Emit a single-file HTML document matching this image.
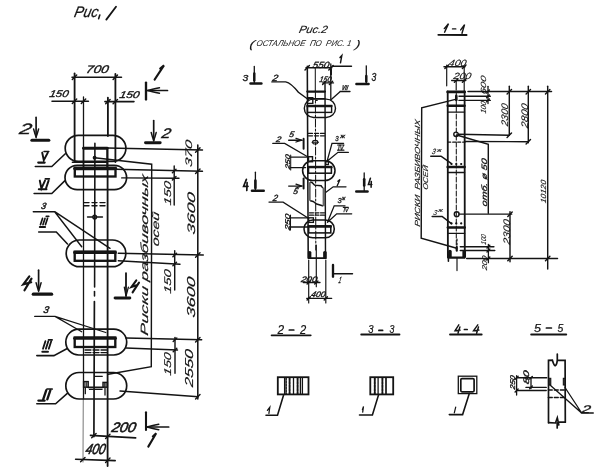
<!DOCTYPE html>
<html><head><meta charset="utf-8"><style>
html,body{margin:0;padding:0;background:#fff;}
svg{display:block;will-change:transform;}
svg text{stroke:#141414;font-family:"Liberation Sans",sans-serif;font-style:italic;fill:#141414;}
</style></head><body>
<svg width="607" height="468" viewBox="0 0 607 468">
<rect x="0" y="0" width="607" height="468" fill="#fff" stroke="none"/>
<g stroke="#141414" stroke-width="1.69" fill="none" stroke-linecap="round">
<text transform="translate(73.5,16.9) skewX(-12)" x="0" y="0" font-size="15.3" textLength="24.0" lengthAdjust="spacingAndGlyphs" stroke-width="0.25">Рис</text>
<path d="M99.8 15 L98.6 18.8" stroke-width="1.56"/>
<path d="M106.3 19.6 L116 6.8" stroke-width="1.82"/>
<line x1="72" y1="77.2" x2="121.5" y2="77.2" stroke-width="1.56"/>
<line x1="72.3" y1="79.4" x2="76.7" y2="75.0" stroke-width="1.43"/>
<line x1="113.1" y1="79.4" x2="117.5" y2="75.0" stroke-width="1.43"/>
<text transform="translate(85.5,73) skewX(-12)" x="0" y="0" font-size="11.11" textLength="22.5" lengthAdjust="spacingAndGlyphs" stroke-width="0.35">700</text>
<line x1="52" y1="101.2" x2="88.4" y2="101.2" stroke-width="1.56"/>
<line x1="72.3" y1="103.4" x2="76.7" y2="99.0" stroke-width="1.43"/>
<line x1="81.3" y1="103.4" x2="85.7" y2="99.0" stroke-width="1.43"/>
<text transform="translate(49,97) skewX(-12)" x="0" y="0" font-size="9.72" textLength="19" lengthAdjust="spacingAndGlyphs" stroke-width="0.35">150</text>
<line x1="104.9" y1="101.6" x2="134" y2="101.6" stroke-width="1.56"/>
<line x1="105.7" y1="103.8" x2="110.1" y2="99.4" stroke-width="1.43"/>
<line x1="113.1" y1="103.8" x2="117.5" y2="99.4" stroke-width="1.43"/>
<text transform="translate(119,97.5) skewX(-12)" x="0" y="0" font-size="9.72" textLength="20" lengthAdjust="spacingAndGlyphs" stroke-width="0.35">150</text>
<line x1="74.6" y1="73.5" x2="74.6" y2="161.5" stroke-width="1.82"/>
<line x1="115.4" y1="74" x2="115.4" y2="162" stroke-width="1.82"/>
<line x1="83.5" y1="97" x2="83.5" y2="399" stroke-width="1.3"/>
<line x1="83.3" y1="399" x2="83" y2="462" stroke-width="1.17" stroke="#8a8a8a"/>
<line x1="107.9" y1="97.7" x2="107.9" y2="136" stroke-width="1.82"/>
<line x1="107.6" y1="147.8" x2="107.6" y2="466" stroke-width="1.82"/>
<line x1="146" y1="82.6" x2="146" y2="99.4" stroke-width="2.34"/>
<line x1="147.5" y1="90.5" x2="167.5" y2="90.5"/>
<path d="M159.5 87.8 Q151.5 89.5 147.5 90.5 Q151.5 91.5 159.5 93.2" stroke-width="1.43"/>
<path d="M154.6 79.6 L164 65.4 L160.2 68.6" stroke-width="2.08"/>
<text transform="translate(18.7,134) skewX(-12)" x="0" y="0" font-size="15" textLength="12.1" lengthAdjust="spacingAndGlyphs" stroke-width="0.35">2</text>
<line x1="36.1" y1="117.3" x2="36.1" y2="137"/>
<path d="M33.6 129 Q34.9 134 36.1 137 Q37.3 134 38.6 129" stroke-width="1.43"/>
<line x1="31.9" y1="140.2" x2="48.8" y2="140.2" stroke-width="3.12"/>
<line x1="153.7" y1="120.5" x2="153.7" y2="140.5"/>
<path d="M151.2 132.5 Q152.5 137.5 153.7 140.5 Q154.9 137.5 156.2 132.5" stroke-width="1.43"/>
<line x1="145.5" y1="142.7" x2="160.2" y2="142.7" stroke-width="2.86"/>
<text transform="translate(161,138) skewX(-12)" x="0" y="0" font-size="14" textLength="9" lengthAdjust="spacingAndGlyphs" stroke-width="0.35">2</text>
<rect x="65.2" y="135.3" width="60.7" height="26.1" rx="13.05"/>
<rect x="65" y="165.3" width="61.6" height="24.4" rx="12.2"/>
<rect x="66.2" y="240" width="59.6" height="26.7" rx="13.35"/>
<rect x="65.8" y="329.2" width="60.9" height="25.8" rx="12.9"/>
<rect x="65.8" y="372.5" width="60.9" height="26.5" rx="13.25"/>
<rect x="83.5" y="147.8" width="23.6" height="20" stroke-width="1.56"/>
<line x1="83.5" y1="148.3" x2="107.1" y2="148.3" stroke-width="2.86"/>
<line x1="72.4" y1="162.2" x2="107" y2="162.2" stroke-width="1.56"/>
<line x1="94.9" y1="143.2" x2="94.6" y2="287" stroke-width="1.56"/>
<line x1="94.5" y1="291.5" x2="94.5" y2="296" stroke-width="1.56"/>
<line x1="94.4" y1="301.5" x2="93.9" y2="436.6"/>
<circle cx="94.6" cy="157.8"  r="1.3" stroke-width="1.3" fill="#1e1e1e"/>
<path d="M94.6 157.8 L151.7 164.2 L151.3 366.6 L108.2 374.2" stroke-width="1.43"/>
<rect x="74.8" y="167.8" width="40.7" height="8.7" stroke-width="2.34"/>
<line x1="74.8" y1="168.6" x2="115.5" y2="168.6" stroke-width="3.38"/>
<line x1="84" y1="202.6" x2="107.5" y2="202.6" stroke-width="1.43" stroke-dasharray="5 3"/>
<line x1="84" y1="205.8" x2="107.5" y2="205.8" stroke-width="1.43" stroke-dasharray="5 3"/>
<circle cx="94.7" cy="217"  r="1.9" stroke-width="1.3" fill="none"/>
<line x1="87.5" y1="217" x2="102.5" y2="217" stroke-width="1.3"/>
<rect x="74.7" y="251.7" width="40.6" height="9.1" stroke-width="2.34"/>
<line x1="74.7" y1="252.4" x2="115.3" y2="252.4" stroke-width="3.12"/>
<rect x="74.7" y="337.5" width="40.6" height="9.5" stroke-width="2.34"/>
<line x1="74.7" y1="338.2" x2="115.3" y2="338.2" stroke-width="3.12"/>
<line x1="85" y1="350" x2="106.7" y2="350" stroke-width="1.3" stroke-dasharray="6 2"/>
<line x1="85" y1="352.6" x2="106.7" y2="352.6" stroke-width="1.3" stroke-dasharray="6 2"/>
<rect x="83.6" y="381.6" width="4.6" height="5.6" stroke-width="1.43"/>
<line x1="85" y1="382.5" x2="85" y2="386.5" stroke-width="1.04"/>
<line x1="86.7" y1="382.5" x2="86.7" y2="386.5" stroke-width="1.04"/>
<rect x="103" y="382.4" width="4.4" height="4.8" stroke-width="1.43"/>
<line x1="104.3" y1="383" x2="104.3" y2="386.5" stroke-width="1.04"/>
<line x1="105.9" y1="383" x2="105.9" y2="386.5" stroke-width="1.04"/>
<line x1="88.2" y1="387.4" x2="103" y2="387.4" stroke-width="1.56"/>
<line x1="89.5" y1="389.4" x2="102" y2="389.4" stroke-width="1.3"/>
<line x1="85.3" y1="387.8" x2="85.3" y2="393.7" stroke-width="1.3"/>
<line x1="105" y1="388.4" x2="105" y2="395" stroke-width="1.3"/>
<line x1="94.8" y1="376.3" x2="102.3" y2="376.3" stroke-width="1.17"/>
<path d="M42.2 152.6 L43.8 160.2 L47.8 152.6" stroke-width="1.95"/>
<line x1="44" y1="151.5" x2="48.8" y2="151.5" stroke-width="1.56"/>
<line x1="38.2" y1="162.6" x2="44.7" y2="162.6" stroke-width="2.08"/>
<path d="M35.3 166.5 L51.8 166.5 L65.3 153.8" stroke-width="1.56"/>
<path d="M39.8 180.6 L41.4 188.4 L45 180.6 M46 188.4 L48.6 180.6" stroke-width="1.95"/>
<line x1="45.3" y1="178.9" x2="49.4" y2="178.9" stroke-width="1.56"/>
<line x1="38.8" y1="189.3" x2="46.5" y2="189.3" stroke-width="1.95"/>
<path d="M34.1 193.5 L51.8 193.5 L64.7 180.9" stroke-width="1.56"/>
<text transform="translate(40.8,209.2) skewX(-12)" x="0" y="0" font-size="9" textLength="4.8" lengthAdjust="spacingAndGlyphs" stroke-width="0.5">3</text>
<path d="M33.3 211.7 L54.7 211.7 L81.7 246.7 M54.7 211.7 L110 248.3" stroke-width="1.43"/>
<path d="M40.5 224.6 L42.5 218.4 M43 224.6 L45 218.4 M45.5 224.6 L47.5 218.4"/>
<line x1="46.2" y1="216.4" x2="48.8" y2="216.4" stroke-width="1.56"/>
<line x1="39.8" y1="227" x2="45.1" y2="227" stroke-width="1.95"/>
<path d="M38.7 232 L56.3 232 L67.5 244" stroke-width="1.56"/>
<path d="M29.3 276.3 L23.3 284.3 L31.2 282.3 M31.5 278.6 L24.5 290.3" stroke-width="2.21"/>
<line x1="38.6" y1="270.2" x2="38.6" y2="290.8"/>
<path d="M36.1 282.8 Q37.4 287.8 38.6 290.8 Q39.8 287.8 41.1 282.8" stroke-width="1.43"/>
<line x1="33.3" y1="294.2" x2="51.6" y2="294.2" stroke-width="3.25"/>
<line x1="126" y1="273.1" x2="126" y2="296" stroke-width="1.82"/>
<path d="M124.3 287.1 L126 296 L128.4 287.1" stroke-width="1.3"/>
<line x1="115.1" y1="297.9" x2="129.8" y2="297.9" stroke-width="2.99"/>
<path d="M136.3 280.3 L131.5 286.9 L137.2 284.9 M139 282.7 L132.6 292.3" stroke-width="2.08"/>
<text transform="translate(43,313.3) skewX(-12)" x="0" y="0" font-size="9.5" textLength="5.3" lengthAdjust="spacingAndGlyphs" stroke-width="0.5">3</text>
<path d="M34.7 316.4 L55 316.4 L81.7 331.7 M55 316.4 L105.8 332.5" stroke-width="1.3"/>
<path d="M43 348.7 L45.4 341.2 M45.9 348.7 L48.3 341.2 M48.8 348.7 L51.2 341.2" stroke-width="1.82"/>
<line x1="48.5" y1="339.9" x2="52.2" y2="339.9" stroke-width="1.56"/>
<line x1="42.3" y1="351.7" x2="48" y2="351.7" stroke-width="1.95"/>
<path d="M36.8 355.6 L53.9 355.6 L66.8 348.8" stroke-width="1.56"/>
<path d="M43.2 399.3 L46.3 390.2 M47.3 399.3 L50.4 390.2" stroke-width="2.34"/>
<line x1="47" y1="389" x2="52.2" y2="389"/>
<line x1="38.5" y1="400.6" x2="44.5" y2="400.6" stroke-width="2.34"/>
<path d="M36.8 403.8 L55.6 403.8 L67.6 393.2" stroke-width="1.56"/>
<line x1="197.8" y1="145" x2="197.8" y2="399" stroke-width="1.56"/>
<line x1="107.1" y1="148" x2="202.5" y2="150" stroke-width="1.43"/>
<line x1="115.5" y1="169.2" x2="202.5" y2="171.2" stroke-width="1.43"/>
<line x1="121.7" y1="177.9" x2="179" y2="178.3" stroke-width="1.43"/>
<line x1="118.3" y1="253.3" x2="203.3" y2="255" stroke-width="1.43"/>
<line x1="118.3" y1="260.8" x2="180" y2="264.2" stroke-width="1.43"/>
<line x1="126" y1="338" x2="201.7" y2="339.7" stroke-width="1.43"/>
<line x1="126" y1="348" x2="177.5" y2="350" stroke-width="1.43"/>
<line x1="120" y1="391" x2="198.3" y2="396.7" stroke-width="1.43"/>
<line x1="195.6" y1="152.2" x2="200.0" y2="147.8" stroke-width="1.43"/>
<line x1="195.6" y1="173.4" x2="200.0" y2="169.0" stroke-width="1.43"/>
<line x1="195.6" y1="257.2" x2="200.0" y2="252.8" stroke-width="1.43"/>
<line x1="195.6" y1="341.9" x2="200.0" y2="337.5" stroke-width="1.43"/>
<line x1="195.6" y1="398.9" x2="200.0" y2="394.5" stroke-width="1.43"/>
<line x1="174.2" y1="166" x2="174.2" y2="205" stroke-width="1.43"/>
<line x1="174.7" y1="250.8" x2="174.7" y2="290" stroke-width="1.43"/>
<line x1="175" y1="337.5" x2="175" y2="373.3" stroke-width="1.43"/>
<line x1="172.4" y1="172.8" x2="176.0" y2="169.2" stroke-width="1.43"/>
<line x1="172.4" y1="180.1" x2="176.0" y2="176.5" stroke-width="1.43"/>
<line x1="172.9" y1="256.8" x2="176.5" y2="253.2" stroke-width="1.43"/>
<line x1="172.9" y1="265.8" x2="176.5" y2="262.2" stroke-width="1.43"/>
<line x1="173.2" y1="341.5" x2="176.8" y2="337.9" stroke-width="1.43"/>
<line x1="173.2" y1="351.8" x2="176.8" y2="348.2" stroke-width="1.43"/>
<text transform="translate(191.5,167.6) rotate(-90) skewX(-12)" x="0" y="0" font-size="9.5" textLength="27.0" lengthAdjust="spacingAndGlyphs" stroke-width="0.12">370</text>
<text transform="translate(171,205.8) rotate(-90) skewX(-12)" x="0" y="0" font-size="9.72" textLength="24.1" lengthAdjust="spacingAndGlyphs" stroke-width="0.18">150</text>
<text transform="translate(194.5,235) rotate(-90) skewX(-12)" x="0" y="0" font-size="10.83" textLength="42" lengthAdjust="spacingAndGlyphs" stroke-width="0.18">3600</text>
<text transform="translate(171,294) rotate(-90) skewX(-12)" x="0" y="0" font-size="9.72" textLength="24" lengthAdjust="spacingAndGlyphs" stroke-width="0.18">150</text>
<text transform="translate(195,318) rotate(-90) skewX(-12)" x="0" y="0" font-size="11.53" textLength="40.5" lengthAdjust="spacingAndGlyphs" stroke-width="0.18">3600</text>
<text transform="translate(170.8,376) rotate(-90) skewX(-12)" x="0" y="0" font-size="9.86" textLength="23" lengthAdjust="spacingAndGlyphs" stroke-width="0.18">150</text>
<text transform="translate(193.3,387.5) rotate(-90) skewX(-12)" x="0" y="0" font-size="11.53" textLength="37.5" lengthAdjust="spacingAndGlyphs" stroke-width="0.18">2550</text>
<text transform="translate(147.5,336) rotate(-90) skewX(-12)" x="0" y="0" font-size="10.5" textLength="161" lengthAdjust="spacingAndGlyphs" stroke-width="0.18">Риски разбивочных</text>
<text transform="translate(159,246.7) rotate(-90) skewX(-12)" x="0" y="0" font-size="10" textLength="34.2" lengthAdjust="spacingAndGlyphs" stroke-width="0.18">осей</text>
<line x1="146" y1="412.3" x2="146" y2="430" stroke-width="2.08"/>
<line x1="146.8" y1="427" x2="168.7" y2="427"/>
<path d="M158.8 424.3 Q150.8 426 146.8 427 Q150.8 428 158.8 429.7" stroke-width="1.43"/>
<path d="M148.3 446.6 L156.2 433.3 L152.8 436.4" stroke-width="2.08"/>
<line x1="90.4" y1="435.4" x2="135.7" y2="437.9" stroke-width="1.56"/>
<line x1="91.7" y1="437.8" x2="96.1" y2="433.4" stroke-width="1.43"/>
<line x1="105.6" y1="438.6" x2="110.0" y2="434.2" stroke-width="1.43"/>
<text transform="translate(110.9,432.3) skewX(-12)" x="0" y="0" font-size="13.75" textLength="24.1" lengthAdjust="spacingAndGlyphs" stroke-width="0.6">200</text>
<line x1="75.6" y1="459.3" x2="115.2" y2="460.6" stroke-width="1.56"/>
<line x1="80.6" y1="461.8" x2="85.0" y2="457.4" stroke-width="1.43"/>
<line x1="105.6" y1="462.5" x2="110.0" y2="458.1" stroke-width="1.43"/>
<text transform="translate(84.9,454) skewX(-12)" x="0" y="0" font-size="14.58" textLength="19.8" lengthAdjust="spacingAndGlyphs" stroke-width="0.6">400</text>
<text transform="translate(298.4,32.8) skewX(-12)" x="0" y="0" font-size="10.5" textLength="28.6" lengthAdjust="spacingAndGlyphs" stroke-width="0.15">Рис.2</text>
<text transform="translate(249,47.7) skewX(-12)" x="0" y="0" font-size="11" textLength="5" lengthAdjust="spacingAndGlyphs" stroke-width="0.1">(</text>
<text transform="translate(256,45.8) skewX(-12)" x="0" y="0" font-size="8.3" textLength="95" lengthAdjust="spacingAndGlyphs" stroke-width="0">ОСТАЛЬНОЕ  ПО  РИС. 1</text>
<text transform="translate(354.7,47.7) skewX(-12)" x="0" y="0" font-size="11" textLength="4.9" lengthAdjust="spacingAndGlyphs" stroke-width="0.1">)</text>
<line x1="307.3" y1="66.2" x2="308.2" y2="258" stroke-width="1.56"/>
<line x1="315.3" y1="68.5" x2="315.3" y2="91" stroke-width="1.04"/>
<line x1="330.8" y1="64" x2="330.8" y2="99.5" stroke-width="1.3"/>
<line x1="306" y1="67.8" x2="331.8" y2="67.8" stroke-width="1.43"/>
<line x1="305.0" y1="70.0" x2="309.4" y2="65.6" stroke-width="1.43"/>
<line x1="328.8" y1="70.0" x2="333.2" y2="65.6" stroke-width="1.43"/>
<text transform="translate(312.2,67.6) skewX(-12)" x="0" y="0" font-size="9" textLength="16.5" lengthAdjust="spacingAndGlyphs" stroke-width="0.35">550</text>
<line x1="332.1" y1="66.2" x2="351.5" y2="66.2" stroke-width="1.43"/>
<line x1="331" y1="69.2" x2="331" y2="74.5" stroke-width="1.95"/>
<path d="M340.5 62.8 L341.8 55.6 L340 57.6" stroke-width="1.43"/>
<line x1="322.7" y1="82.9" x2="333.5" y2="82.9" stroke-width="1.3"/>
<line x1="322.6" y1="84.5" x2="325.8" y2="81.3" stroke-width="1.43"/>
<line x1="329.4" y1="84.5" x2="332.6" y2="81.3" stroke-width="1.43"/>
<text transform="translate(319,82.2) skewX(-12)" x="0" y="0" font-size="8" textLength="12" lengthAdjust="spacingAndGlyphs" stroke-width="0.35">150</text>
<text transform="translate(242.5,80.5) skewX(0)" x="0" y="0" font-size="8.89" textLength="5.8" lengthAdjust="spacingAndGlyphs" font-style="normal" stroke-width="0.3">3</text>
<line x1="254.3" y1="66.4" x2="254.3" y2="83.4" stroke-width="1.3"/>
<line x1="254.3" y1="73.5" x2="254.3" y2="80.5" stroke-width="2.47"/>
<line x1="250.5" y1="83.6" x2="261.4" y2="83.6" stroke-width="2.47"/>
<line x1="366.3" y1="65.8" x2="366.3" y2="84" stroke-width="1.3"/>
<line x1="366.3" y1="76" x2="366.3" y2="81.5" stroke-width="2.47"/>
<line x1="356.4" y1="84" x2="368.6" y2="84" stroke-width="2.47"/>
<text transform="translate(371.5,80.5) skewX(0)" x="0" y="0" font-size="10.28" textLength="4.8" lengthAdjust="spacingAndGlyphs" font-style="normal" stroke-width="0.3">3</text>
<text transform="translate(272,80.7) skewX(-12)" x="0" y="0" font-size="9" textLength="5.5" lengthAdjust="spacingAndGlyphs" stroke-width="0.35">2</text>
<path d="M271.9 81.9 L285.7 81.9 Q291 83 298.4 92.3 L308.3 99.5" stroke-width="1.43"/>
<text transform="translate(341.6,89.5) skewX(-12)" x="0" y="0" font-size="7" textLength="5.9" lengthAdjust="spacingAndGlyphs" font-weight="bold" stroke-width="0.35">VII</text>
<path d="M340 91.5 L350 91.5 M340 91.8 L331 99.7" stroke-width="1.3"/>
<line x1="307.3" y1="91.6" x2="324.9" y2="91.6" stroke-width="2.21"/>
<line x1="307.3" y1="98.7" x2="324.9" y2="98.7" stroke-width="1.3"/>
<path d="M308.2 97.8 L312.8 97.8 L312.8 103.4 L308.2 103.4" stroke-width="1.43"/>
<line x1="315.6" y1="100.4" x2="317.2" y2="100.4" stroke-width="1.17"/>
<rect x="304.3" y="99.1" width="31.2" height="18.4" rx="9.2" stroke-width="1.43"/>
<rect x="307.3" y="105.5" width="24.3" height="6.9" stroke-width="1.43"/>
<line x1="307.3" y1="106.1" x2="331.6" y2="106.1" stroke-width="2.08"/>
<line x1="315.4" y1="91" x2="315.8" y2="250" stroke-width="1.04" stroke-dasharray="8 2 2 2"/>
<line x1="325" y1="83.4" x2="325.5" y2="258" stroke-width="1.43"/>
<line x1="308.5" y1="133.4" x2="325.4" y2="133.4" stroke-width="1.3" stroke-dasharray="4 2"/>
<line x1="308.5" y1="135.8" x2="325.4" y2="135.8" stroke-width="1.3" stroke-dasharray="4 2"/>
<ellipse cx="315.2" cy="142.2" rx="2.6" ry="1.8" stroke-width="1.1"/>
<line x1="312" y1="142.2" x2="318.5" y2="142.2" stroke-width="1.04"/>
<text transform="translate(288.7,136.8) skewX(-12)" x="0" y="0" font-size="8" textLength="4.9" lengthAdjust="spacingAndGlyphs" font-style="normal" stroke-width="0.35">5</text>
<line x1="288.7" y1="140.2" x2="301.6" y2="140.2" stroke-width="1.43"/>
<path d="M296 138.3 L301.6 140.2 L296 142" stroke-width="1.3"/>
<line x1="303.6" y1="138.8" x2="303.6" y2="148.7" stroke-width="1.95"/>
<text transform="translate(275.8,141.8) skewX(-12)" x="0" y="0" font-size="8" textLength="4.9" lengthAdjust="spacingAndGlyphs" stroke-width="0.35">2</text>
<path d="M272.8 143.4 L284.7 143.4 L307.6 156.7" stroke-width="1.3"/>
<text transform="translate(335.3,141.2) skewX(0)" x="0" y="0" font-size="7" textLength="3.4" lengthAdjust="spacingAndGlyphs" font-style="normal" stroke-width="0.3">3</text>
<text transform="translate(340.2,138.2) skewX(0)" x="0" y="0" font-size="5.5" textLength="4.8" lengthAdjust="spacingAndGlyphs" stroke-width="0.3">ж</text>
<text transform="translate(338,149.9) skewX(0)" x="0" y="0" font-size="6.5" textLength="5.6" lengthAdjust="spacingAndGlyphs" font-style="normal" stroke-width="0.3">IV</text>
<line x1="337.6" y1="145" x2="343.9" y2="145" stroke-width="1.17"/>
<line x1="337.6" y1="150.2" x2="343.9" y2="150.2" stroke-width="1.17"/>
<path d="M343.6 143.3 L332 143.3 L327.1 161.2 M348.4 152.3 L338 152.3 L327.1 161.2" stroke-width="1.3"/>
<rect x="308.5" y="156.7" width="4" height="5" stroke-width="1.43"/>
<rect x="325.8" y="161.7" width="2.6" height="2.9" stroke-width="1.3"/>
<text transform="translate(289.7,169.6) rotate(-90) skewX(-12)" x="0" y="0" font-size="6.5" textLength="14.9" lengthAdjust="spacingAndGlyphs" stroke-width="0.35">250</text>
<line x1="290.7" y1="157.1" x2="306.6" y2="157.1" stroke-width="1.3"/>
<line x1="290.7" y1="167.6" x2="305.6" y2="167.6" stroke-width="1.3"/>
<line x1="290.7" y1="155" x2="290.7" y2="170" stroke-width="1.04"/>
<rect x="302.6" y="160.7" width="32.4" height="19.8" rx="9.9" stroke-width="1.56"/>
<rect x="308.5" y="166.6" width="22.9" height="6.6" stroke-width="1.56"/>
<line x1="308.5" y1="167.2" x2="331.4" y2="167.2" stroke-width="2.34"/>
<text transform="translate(292.7,194.4) skewX(-12)" x="0" y="0" font-size="8" textLength="4.9" lengthAdjust="spacingAndGlyphs" font-style="normal" stroke-width="0.35">5</text>
<line x1="288.7" y1="186.1" x2="301.6" y2="186.1" stroke-width="1.43"/>
<path d="M296 184.2 L301.6 186.1 L296 188" stroke-width="1.3"/>
<line x1="303.6" y1="178.5" x2="303.6" y2="188.5" stroke-width="1.95"/>
<path d="M246.4 179.4 L243.6 186.3 L248 186.3 M247.1 182.7 L246.8 190.5"/>
<line x1="255.4" y1="172.2" x2="255.4" y2="190.8" stroke-width="1.3"/>
<line x1="255.4" y1="180.5" x2="255.4" y2="188" stroke-width="2.6"/>
<line x1="252" y1="190.8" x2="263.7" y2="190.8" stroke-width="2.6"/>
<line x1="364.2" y1="172.9" x2="364.2" y2="191.2" stroke-width="1.3"/>
<line x1="364.2" y1="179.2" x2="364.2" y2="185.5" stroke-width="2.6"/>
<line x1="356.3" y1="191.5" x2="367.5" y2="191.5" stroke-width="2.6"/>
<path d="M370.4 178.2 L368.4 184.5 L371.8 184.5 M371.3 181.5 L371.1 187.2" stroke-width="1.56"/>
<path d="M337.2 185.8 L340 179.5 L337.8 181.2" stroke-width="1.3"/>
<path d="M346 186.8 L333.2 186.8 L325.6 192.4" stroke-width="1.3"/>
<path d="M310.5 182.2 L312 182.5 L314.5 185.1 L321.1 185.8 L322.5 187.6" stroke-width="1.43"/>
<path d="M310.5 200.7 L313.1 201.5 L316.7 204 L322.5 205.8" stroke-width="1.43"/>
<rect x="308.4" y="182.2" width="2.3" height="18.5" fill="#666" stroke="none"/>
<rect x="322.6" y="187.6" width="2.6" height="18.6" fill="#666" stroke="none"/>
<line x1="309.5" y1="212.8" x2="325" y2="212.8" stroke-width="1.17" stroke-dasharray="4 1.5"/>
<line x1="309.5" y1="215.2" x2="325" y2="215.2" stroke-width="1.17" stroke-dasharray="4 1.5"/>
<rect x="308.7" y="217.8" width="4.7" height="4.6" stroke-width="1.3"/>
<text transform="translate(272.6,201.4) skewX(-12)" x="0" y="0" font-size="9" textLength="4.7" lengthAdjust="spacingAndGlyphs" stroke-width="0.35">2</text>
<path d="M269 202.1 L283.1 202.1 L307.6 217.8" stroke-width="1.3"/>
<text transform="translate(337.5,203.3) skewX(0)" x="0" y="0" font-size="8" textLength="4.2" lengthAdjust="spacingAndGlyphs" font-style="normal" stroke-width="0.3">3</text>
<text transform="translate(341.9,199.5) skewX(0)" x="0" y="0" font-size="5.5" textLength="3.4" lengthAdjust="spacingAndGlyphs" stroke-width="0.3">ж</text>
<text transform="translate(343.6,211.6) skewX(0)" x="0" y="0" font-size="6" textLength="4.7" lengthAdjust="spacingAndGlyphs" font-style="normal" stroke-width="0.3">IV</text>
<line x1="343.3" y1="207.3" x2="348.3" y2="207.3" stroke-width="1.17"/>
<path d="M345 205.8 L334.2 205.8 L327.5 222.2 M351.7 213.8 L336.7 213.8 L327.5 222.2" stroke-width="1.3"/>
<text transform="translate(290,230.6) rotate(-90) skewX(-12)" x="0" y="0" font-size="7" textLength="16.3" lengthAdjust="spacingAndGlyphs" stroke-width="0.35">250</text>
<line x1="290" y1="217.8" x2="308.7" y2="217.8" stroke-width="1.3"/>
<line x1="290" y1="227" x2="307.6" y2="227" stroke-width="1.3"/>
<line x1="290.5" y1="215" x2="290.5" y2="230" stroke-width="1.04"/>
<rect x="304" y="220" width="30.3" height="17.8" rx="8.9" stroke-width="1.56"/>
<rect x="308.7" y="225.9" width="22.1" height="7" stroke-width="1.56"/>
<line x1="308.7" y1="226.5" x2="330.8" y2="226.5" stroke-width="2.34"/>
<path d="M308.7 252 L308.7 258.2 L325.8 258.2 L325.8 252"/>
<line x1="309.8" y1="252.5" x2="309.8" y2="257.5" stroke-width="3.12"/>
<line x1="324.7" y1="252.5" x2="324.7" y2="257.5" stroke-width="3.12"/>
<line x1="316.3" y1="245" x2="316.3" y2="286.7" stroke-width="1.17"/>
<line x1="308.7" y1="260" x2="308.7" y2="303" stroke-width="1.17"/>
<line x1="325.8" y1="260" x2="325.8" y2="303" stroke-width="1.17"/>
<line x1="303.3" y1="282.5" x2="320" y2="282.5" stroke-width="1.3"/>
<line x1="307.1" y1="284.1" x2="310.3" y2="280.9" stroke-width="1.43"/>
<line x1="314.7" y1="284.1" x2="317.9" y2="280.9" stroke-width="1.43"/>
<text transform="translate(300.8,281.7) skewX(-12)" x="0" y="0" font-size="8" textLength="15.9" lengthAdjust="spacingAndGlyphs" stroke-width="0.35">200</text>
<line x1="306.7" y1="298.3" x2="331.7" y2="298.3" stroke-width="1.3"/>
<line x1="307.1" y1="299.9" x2="310.3" y2="296.7" stroke-width="1.43"/>
<line x1="324.2" y1="299.9" x2="327.4" y2="296.7" stroke-width="1.43"/>
<text transform="translate(310.8,296.7) skewX(-12)" x="0" y="0" font-size="8" textLength="14.2" lengthAdjust="spacingAndGlyphs" stroke-width="0.35">400</text>
<line x1="333" y1="265" x2="333" y2="276.7" stroke-width="2.34"/>
<line x1="333.3" y1="273.7" x2="352.5" y2="273.7" stroke-width="1.43"/>
<text transform="translate(338.3,282.5) skewX(-12)" x="0" y="0" font-size="9" textLength="2.5" lengthAdjust="spacingAndGlyphs" stroke-width="0.35">1</text>
<path d="M444.6 32.2 L448.5 23.6 L444.3 28.6 M452.5 28.9 L455.8 28.9 M462 33.3 L464.6 24.6 L460.7 29.9" stroke-width="1.43"/>
<line x1="438.3" y1="34.8" x2="466.6" y2="35" stroke-width="1.82"/>
<line x1="444" y1="66.7" x2="465" y2="66.7" stroke-width="1.43"/>
<line x1="444.9" y1="68.5" x2="448.5" y2="64.9" stroke-width="1.43"/>
<line x1="462.4" y1="68.5" x2="466.0" y2="64.9" stroke-width="1.43"/>
<text transform="translate(448.3,65.8) skewX(-12)" x="0" y="0" font-size="9" textLength="17.5" lengthAdjust="spacingAndGlyphs" stroke-width="0.12">400</text>
<line x1="451.7" y1="80.5" x2="465.8" y2="80.5" stroke-width="1.43"/>
<line x1="454.4" y1="82.3" x2="458.0" y2="78.7" stroke-width="1.43"/>
<line x1="462.4" y1="82.3" x2="466.0" y2="78.7" stroke-width="1.43"/>
<text transform="translate(453,79.2) skewX(-12)" x="0" y="0" font-size="9" textLength="17.8" lengthAdjust="spacingAndGlyphs" stroke-width="0.12">200</text>
<line x1="446.7" y1="65" x2="446.7" y2="85.8" stroke-width="1.17"/>
<line x1="464.2" y1="65.8" x2="464.2" y2="90.8" stroke-width="1.17"/>
<line x1="456.2" y1="80.8" x2="456.2" y2="90" stroke-width="1.17"/>
<line x1="447.7" y1="91.3" x2="447.9" y2="257.5" stroke-width="1.82"/>
<line x1="464.6" y1="91.3" x2="464.8" y2="257.5" stroke-width="1.82"/>
<line x1="447.7" y1="91.9" x2="464.6" y2="91.9" stroke-width="2.86"/>
<line x1="447.7" y1="105.8" x2="464.6" y2="105.8" stroke-width="2.47"/>
<line x1="447.7" y1="112.1" x2="464.6" y2="112.1" stroke-width="1.3"/>
<line x1="456.3" y1="93" x2="456.3" y2="250" stroke-width="1.04" stroke-dasharray="5 2"/>
<line x1="456.3" y1="95.9" x2="456.3" y2="100" stroke-width="2.6"/>
<line x1="459" y1="96.3" x2="490.3" y2="96.3" stroke-width="1.43"/>
<line x1="459" y1="100.4" x2="490.3" y2="100.4" stroke-width="1.43"/>
<line x1="468" y1="91.5" x2="551.5" y2="91.5" stroke-width="1.56"/>
<text transform="translate(486,113.8) rotate(-90) skewX(-12)" x="0" y="0" font-size="7.5" textLength="12.1" lengthAdjust="spacingAndGlyphs" stroke-width="0.12">100</text>
<text transform="translate(486.2,94.6) rotate(-90) skewX(-12)" x="0" y="0" font-size="7.5" textLength="18.6" lengthAdjust="spacingAndGlyphs" stroke-width="0.12">600</text>
<line x1="488" y1="86.3" x2="488" y2="103.6" stroke-width="1.3"/>
<line x1="486.6" y1="92.9" x2="489.4" y2="90.1" stroke-width="1.43"/>
<line x1="486.6" y1="97.7" x2="489.4" y2="94.9" stroke-width="1.43"/>
<line x1="486.6" y1="101.8" x2="489.4" y2="99.0" stroke-width="1.43"/>
<line x1="509.3" y1="86.3" x2="509.3" y2="135.3" stroke-width="1.43"/>
<line x1="528.3" y1="86.3" x2="528.3" y2="142.7" stroke-width="1.43"/>
<line x1="547.7" y1="86.3" x2="547.7" y2="269" stroke-width="1.43"/>
<line x1="507.1" y1="93.9" x2="511.5" y2="89.5" stroke-width="1.43"/>
<line x1="526.1" y1="93.9" x2="530.5" y2="89.5" stroke-width="1.43"/>
<line x1="545.5" y1="93.9" x2="549.9" y2="89.5" stroke-width="1.43"/>
<text transform="translate(507.8,126.5) rotate(-90) skewX(-12)" x="0" y="0" font-size="9.5" textLength="22.5" lengthAdjust="spacingAndGlyphs" stroke-width="0.12">2300</text>
<text transform="translate(527.5,128.5) rotate(-90) skewX(-12)" x="0" y="0" font-size="9.5" textLength="24.5" lengthAdjust="spacingAndGlyphs" stroke-width="0.12">2800</text>
<text transform="translate(545.8,203.6) rotate(-90) skewX(-12)" x="0" y="0" font-size="7.5" textLength="23.1" lengthAdjust="spacingAndGlyphs" stroke-width="0.12">10120</text>
<circle cx="456" cy="134.3"  r="2.2" stroke-width="1.43" fill="none"/>
<line x1="458.2" y1="134.3" x2="509.3" y2="135.3" stroke-width="1.43"/>
<line x1="507.1" y1="137.5" x2="511.5" y2="133.1" stroke-width="1.43"/>
<line x1="447.7" y1="142.2" x2="465" y2="142.2" stroke-width="1.17" stroke-dasharray="3 2"/>
<path d="M455.4 99.4 L421.7 107.7 L421.2 238.3 L456.7 248.3" stroke-width="1.43"/>
<path d="M456.7 135 L488.3 144.4 L488.3 213.3" stroke-width="1.43"/>
<line x1="465" y1="141.5" x2="528.3" y2="141.7" stroke-width="1.43"/>
<line x1="526.1" y1="143.9" x2="530.5" y2="139.5" stroke-width="1.43"/>
<text transform="translate(487.2,206.7) rotate(-90) skewX(-12)" x="0" y="0" font-size="7.8" textLength="47.9" lengthAdjust="spacingAndGlyphs" stroke-width="0.3">отб. ø 50</text>
<text transform="translate(431.6,154.4) skewX(-12)" x="0" y="0" font-size="7.6" textLength="3.8" lengthAdjust="spacingAndGlyphs" stroke-width="0.12">3</text>
<text transform="translate(437,151.5) skewX(0)" x="0" y="0" font-size="5" textLength="4.5" lengthAdjust="spacingAndGlyphs" stroke-width="0.12">ж</text>
<path d="M430.8 156.2 L441 156.2 L451.5 163.6" stroke-width="1.56"/>
<circle cx="451.5" cy="164"  r="0.6" stroke-width="1.04" fill="#1e1e1e"/>
<circle cx="456.3" cy="164"  r="0.6" stroke-width="1.04" fill="#1e1e1e"/>
<circle cx="461.2" cy="164"  r="0.6" stroke-width="1.04" fill="#1e1e1e"/>
<line x1="447.7" y1="167" x2="464.6" y2="167" stroke-width="2.6"/>
<line x1="447.7" y1="172.5" x2="464.6" y2="172.5" stroke-width="1.3"/>
<circle cx="456.7" cy="214.2"  r="2.4" stroke-width="1.43" fill="none"/>
<line x1="459" y1="214.2" x2="511.7" y2="214.2" stroke-width="1.3"/>
<text transform="translate(432.9,214.9) skewX(-12)" x="0" y="0" font-size="7.2" textLength="3.7" lengthAdjust="spacingAndGlyphs" stroke-width="0.12">3</text>
<text transform="translate(438.2,212.4) skewX(0)" x="0" y="0" font-size="5" textLength="4.6" lengthAdjust="spacingAndGlyphs" stroke-width="0.12">ж</text>
<path d="M432.2 216.5 L442.1 216.5 L451.4 223.6" stroke-width="1.56"/>
<circle cx="451.5" cy="223.4"  r="0.6" stroke-width="1.04" fill="#1e1e1e"/>
<circle cx="456.3" cy="223.4"  r="0.6" stroke-width="1.04" fill="#1e1e1e"/>
<circle cx="461.2" cy="223.4"  r="0.6" stroke-width="1.04" fill="#1e1e1e"/>
<line x1="447.9" y1="227.5" x2="464.7" y2="227.5" stroke-width="2.6"/>
<line x1="447.9" y1="233.3" x2="464.7" y2="233.3" stroke-width="1.3"/>
<line x1="449.9" y1="251.5" x2="449.9" y2="256.2" stroke-width="3.64"/>
<line x1="464.2" y1="251.8" x2="464.2" y2="256.2" stroke-width="3.64"/>
<line x1="449.4" y1="257.7" x2="464.2" y2="257.7" stroke-width="2.21"/>
<line x1="448.4" y1="255" x2="448.4" y2="261.2" stroke-width="1.56"/>
<line x1="457" y1="257.7" x2="457" y2="270.6" stroke-width="1.17"/>
<line x1="457" y1="239" x2="457" y2="241" stroke-width="1.17"/>
<line x1="457" y1="243" x2="457" y2="245" stroke-width="1.17"/>
<line x1="456.8" y1="246.9" x2="456.8" y2="250.8" stroke-width="2.08"/>
<line x1="460.3" y1="246.7" x2="493.9" y2="246.7" stroke-width="1.43"/>
<line x1="460.3" y1="250.5" x2="494.8" y2="250.5" stroke-width="1.43"/>
<line x1="466.7" y1="258.5" x2="557.5" y2="258.5" stroke-width="1.56"/>
<line x1="488.4" y1="244.4" x2="488.4" y2="262.7" stroke-width="1.3"/>
<line x1="487.0" y1="248.1" x2="489.8" y2="245.3" stroke-width="1.43"/>
<line x1="487.0" y1="251.9" x2="489.8" y2="249.1" stroke-width="1.43"/>
<line x1="487.0" y1="259.9" x2="489.8" y2="257.1" stroke-width="1.43"/>
<line x1="510" y1="211.7" x2="510" y2="261.7" stroke-width="1.43"/>
<line x1="507.8" y1="216.4" x2="512.2" y2="212.0" stroke-width="1.43"/>
<line x1="507.8" y1="260.7" x2="512.2" y2="256.3" stroke-width="1.43"/>
<line x1="545.5" y1="260.7" x2="549.9" y2="256.3" stroke-width="1.43"/>
<text transform="translate(510,245) rotate(-90) skewX(-12)" x="0" y="0" font-size="9.5" textLength="25" lengthAdjust="spacingAndGlyphs" stroke-width="0.12">2300</text>
<text transform="translate(486.4,244.9) rotate(-90) skewX(-12)" x="0" y="0" font-size="7" textLength="9.9" lengthAdjust="spacingAndGlyphs" stroke-width="0.12">100</text>
<text transform="translate(487.4,270.6) rotate(-90) skewX(-12)" x="0" y="0" font-size="7" textLength="14.4" lengthAdjust="spacingAndGlyphs" stroke-width="0.12">200</text>
<text transform="translate(420,227) rotate(-90) skewX(-12)" x="0" y="0" font-size="7.4" textLength="107" lengthAdjust="spacingAndGlyphs" stroke-width="0.12">РИСКИ  РАЗБИВОЧНЫХ</text>
<text transform="translate(428.3,190) rotate(-90) skewX(-12)" x="0" y="0" font-size="7" textLength="24.2" lengthAdjust="spacingAndGlyphs" stroke-width="0.12">ОСЕЙ</text>
<text transform="translate(277.4,333.7) skewX(0)" x="0" y="0" font-size="12.08" textLength="6.6" lengthAdjust="spacingAndGlyphs" font-style="normal" stroke-width="0.2">2</text>
<line x1="289.3" y1="330" x2="293.8" y2="330"/>
<text transform="translate(300,333.7) skewX(0)" x="0" y="0" font-size="12.08" textLength="6.2" lengthAdjust="spacingAndGlyphs" font-style="normal" stroke-width="0.2">2</text>
<line x1="271.6" y1="335.3" x2="310.7" y2="335.3" stroke-width="1.82"/>
<rect x="277.8" y="377.2" width="30.7" height="17.2" stroke-width="1.82"/>
<line x1="284.8" y1="378" x2="284.8" y2="394"/>
<line x1="286.3" y1="378" x2="286.3" y2="394" stroke-width="1.17" stroke-dasharray="2 1"/>
<line x1="289.6" y1="378" x2="289.6" y2="394" stroke-width="1.95" stroke-dasharray="2.5 1"/>
<line x1="293.5" y1="378" x2="293.5" y2="394" stroke-width="1.3"/>
<line x1="297.6" y1="378" x2="297.6" y2="394" stroke-width="1.95" stroke-dasharray="2.5 1"/>
<line x1="300.4" y1="378" x2="300.4" y2="394" stroke-width="1.3"/>
<line x1="302.4" y1="378" x2="302.4" y2="394" stroke-width="1.3"/>
<path d="M283.6 395 L277.5 415.3 L266 415.3" stroke-width="1.56"/>
<path d="M268.9 413.4 L269.8 407.3 L267.4 410.4" stroke-width="1.23"/>
<text transform="translate(368.2,332.8) skewX(0)" x="0" y="0" font-size="10.28" textLength="5.3" lengthAdjust="spacingAndGlyphs" font-style="normal" stroke-width="0.2">3</text>
<line x1="378.9" y1="330.4" x2="382.6" y2="330.4"/>
<text transform="translate(389.6,332.8) skewX(0)" x="0" y="0" font-size="10.28" textLength="4.9" lengthAdjust="spacingAndGlyphs" font-style="normal" stroke-width="0.2">3</text>
<line x1="361.2" y1="334.5" x2="399.5" y2="334.5" stroke-width="1.82"/>
<rect x="370.3" y="377.2" width="22.9" height="17.2" stroke-width="1.82"/>
<line x1="374.8" y1="378" x2="374.8" y2="394" stroke-width="1.95" stroke-dasharray="2.5 1"/>
<line x1="378.1" y1="378" x2="378.1" y2="394" stroke-width="1.3"/>
<line x1="382.4" y1="378" x2="382.4" y2="394" stroke-width="1.95" stroke-dasharray="2.5 1"/>
<line x1="386" y1="378" x2="386" y2="394"/>
<path d="M378.5 395 L372.4 415 L359.5 415" stroke-width="1.56"/>
<path d="M362.7 412.1 L363.5 406.5 L362.4 409.7" stroke-width="1.23"/>
<path d="M458.8 324.8 L455.1 330.6 L460.2 330.1 M459.9 327 L458 333.2" stroke-width="1.43"/>
<line x1="464.4" y1="329.5" x2="467.2" y2="329.5"/>
<path d="M477.8 324.8 L473.6 330.6 L479 330.1 M478.5 327 L476.6 333.2" stroke-width="1.43"/>
<line x1="450" y1="334.5" x2="481.7" y2="334.5" stroke-width="1.82"/>
<rect x="458.3" y="376.2" width="18.5" height="17.4" stroke-width="1.3"/>
<rect x="460.8" y="378.6" width="13.3" height="13.2" rx="1.2"/>
<path d="M469.3 393.4 L462.6 414.6 L449.3 414.6" stroke-width="1.56"/>
<path d="M454.3 412.8 L455.7 407.1" stroke-width="1.23"/>
<text transform="translate(534,331.7) skewX(0)" x="0" y="0" font-size="10.97" textLength="7" lengthAdjust="spacingAndGlyphs" font-style="normal" stroke-width="0.25">5</text>
<line x1="546.4" y1="328" x2="551.4" y2="328"/>
<text transform="translate(557.5,331.7) skewX(0)" x="0" y="0" font-size="10.97" textLength="5.8" lengthAdjust="spacingAndGlyphs" font-style="normal" stroke-width="0.25">5</text>
<line x1="531.2" y1="334.5" x2="566.2" y2="334.5" stroke-width="1.95"/>
<path d="M548.5 422.7 L548.5 360.4 L552.4 360.2 Q554.2 366.5 555.5 365.6 Q557 364.5 557.3 360 L557.3 354 M557.6 360.4 L565.1 360.4 L565.3 422.2"/>
<path d="M548.7 422.7 L555.5 423 L557.3 417.8 L558.8 425 M557.2 423 L557.2 428 M559.5 422.2 L565.3 422.2"/>
<line x1="516.6" y1="377.8" x2="546.7" y2="377.8" stroke-width="1.43"/>
<line x1="526" y1="387.4" x2="546.2" y2="387.4" stroke-width="1.43"/>
<line x1="516.6" y1="390.5" x2="546.2" y2="390.5" stroke-width="1.43"/>
<line x1="516.6" y1="375.7" x2="516.6" y2="395" stroke-width="1.3"/>
<line x1="531" y1="378" x2="531" y2="388.5" stroke-width="1.3"/>
<line x1="515.1" y1="379.3" x2="518.1" y2="376.3" stroke-width="1.43"/>
<line x1="515.1" y1="392.0" x2="518.1" y2="389.0" stroke-width="1.43"/>
<line x1="529.7" y1="379.1" x2="532.3" y2="376.5" stroke-width="1.43"/>
<line x1="529.7" y1="388.7" x2="532.3" y2="386.1" stroke-width="1.43"/>
<text transform="translate(515,389.7) rotate(-90) skewX(-12)" x="0" y="0" font-size="7" textLength="14.0" lengthAdjust="spacingAndGlyphs" stroke-width="0.35">250</text>
<text transform="translate(529.4,384.4) rotate(-90) skewX(-12)" x="0" y="0" font-size="8" textLength="13.4" lengthAdjust="spacingAndGlyphs" stroke-width="0.35">80</text>
<rect x="548.8" y="378.3" width="2" height="6.7" stroke-width="1.04" fill="#333"/>
<rect x="563.3" y="378.3" width="2" height="6.7" stroke-width="1.04" fill="#333"/>
<line x1="548.3" y1="390" x2="565.3" y2="390" stroke-width="1.3" stroke-dasharray="4 2"/>
<line x1="548.3" y1="397.5" x2="565.3" y2="397.5" stroke-width="1.3" stroke-dasharray="4 2"/>
<path d="M593.3 413 L581.7 413 L550 385 M581.7 413 L565 387.5" stroke-width="1.3"/>
<text transform="translate(581,413) skewX(-12)" x="0" y="0" font-size="11" textLength="9" lengthAdjust="spacingAndGlyphs" stroke-width="0.35">2</text>
</g>
</svg>
</body></html>
